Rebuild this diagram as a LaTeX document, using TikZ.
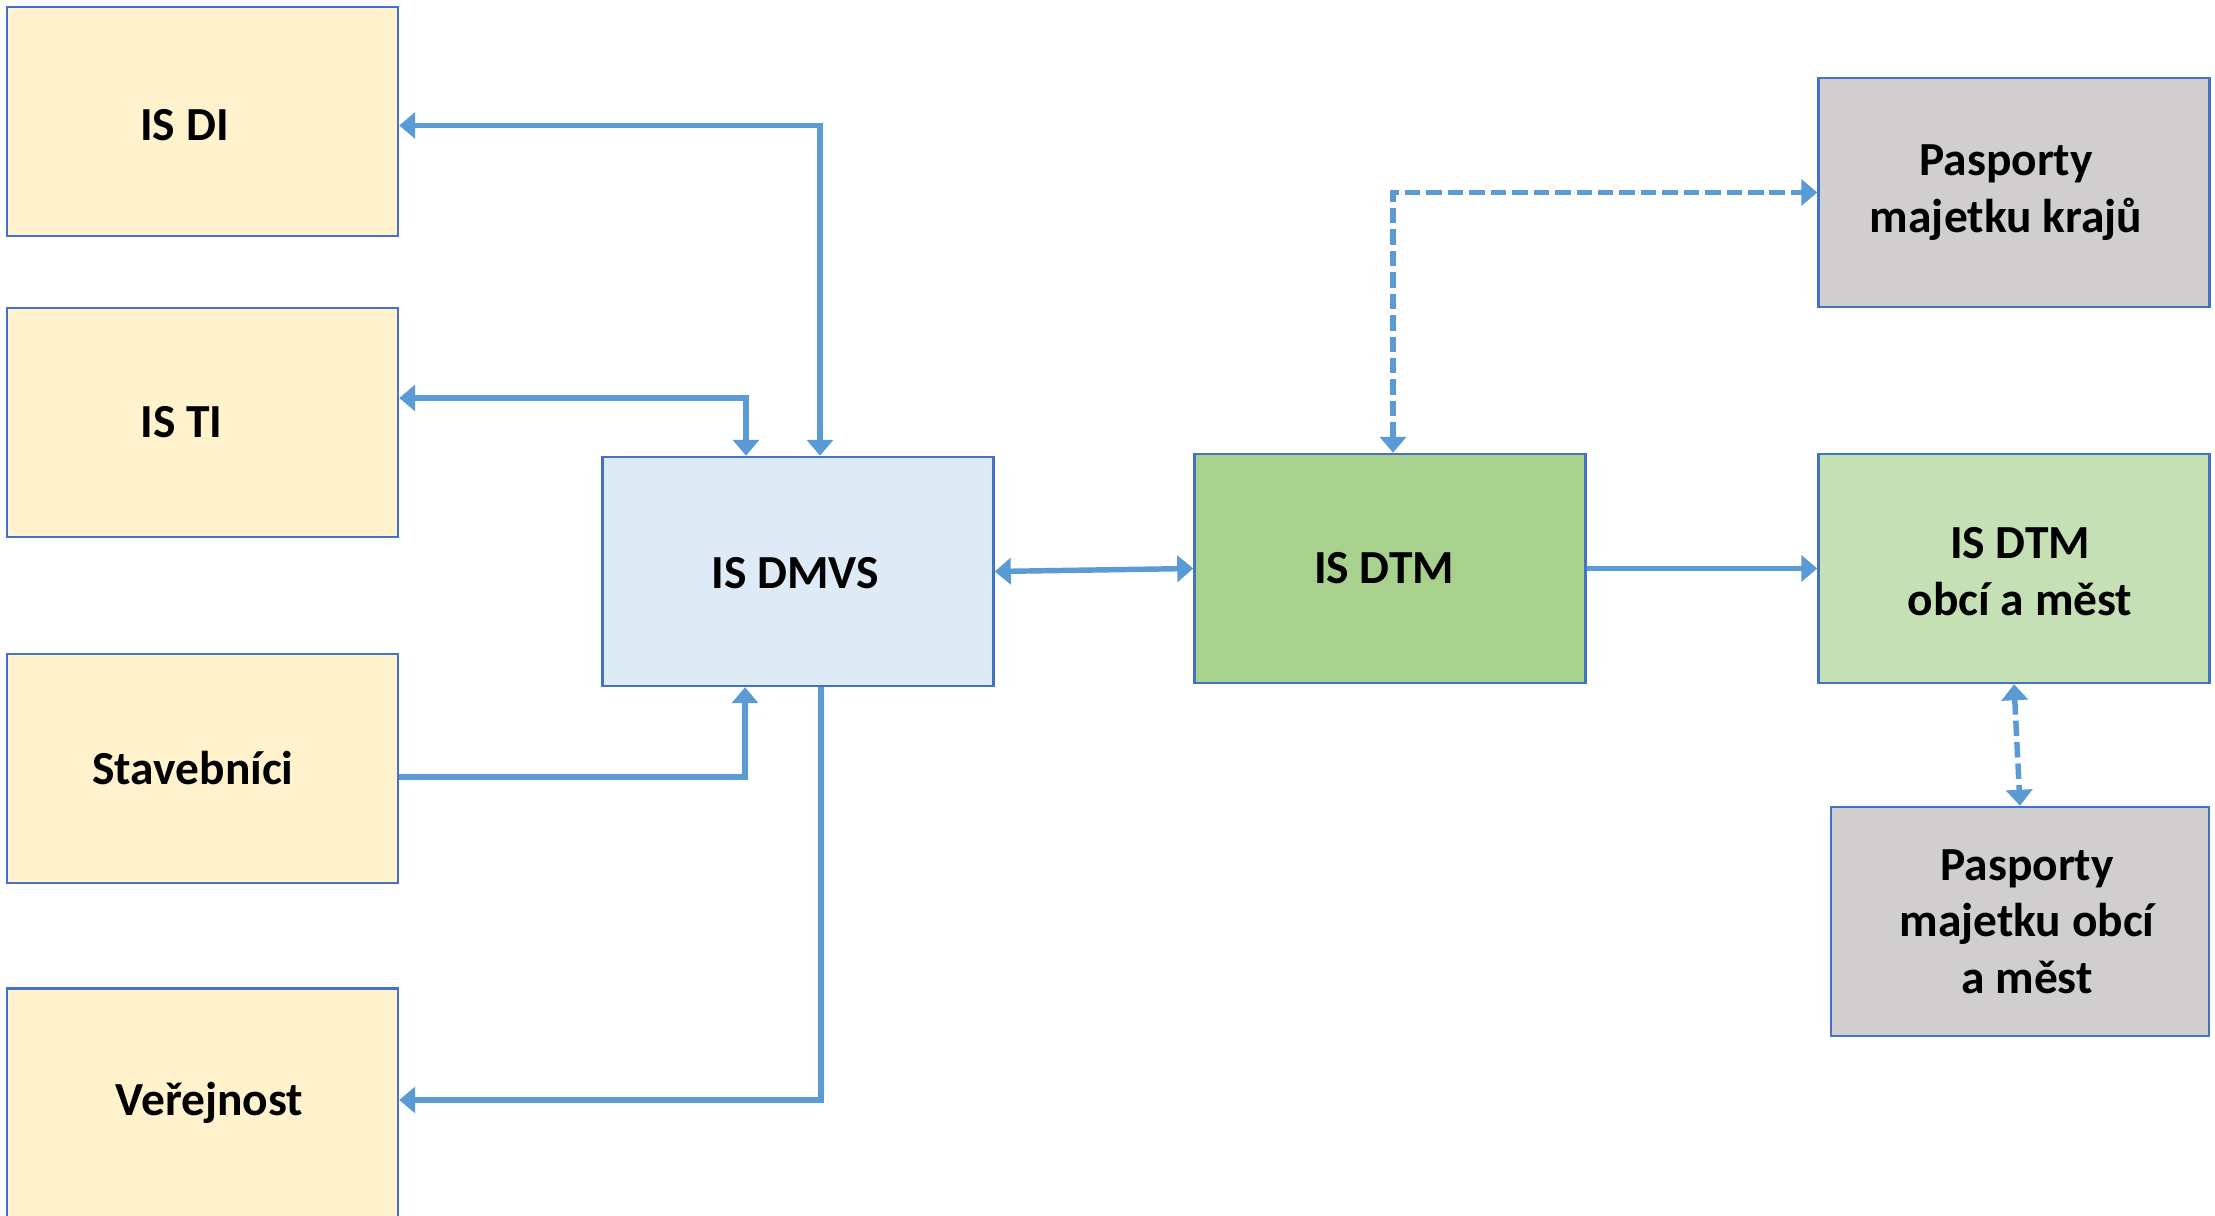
\documentclass[tikz,border=0pt]{standalone}
\usepackage{fontspec}
\setmainfont{Carlito}
\usetikzlibrary{arrows.meta}

\definecolor{boxline}{HTML}{4472C4}
\definecolor{linkblue}{HTML}{5B9BD5}
\definecolor{sourcefill}{HTML}{FFF2CC}
\definecolor{dmvsfill}{HTML}{DEEBF7}
\definecolor{dtmfill}{HTML}{A9D18E}
\definecolor{dtmobcefill}{HTML}{C5E0B4}
\definecolor{pasportfill}{HTML}{D0CECE}

\begin{document}
\begin{tikzpicture}[
        >={Triangle[length=0.16cm, width=0.26cm]},
        box/.style={draw=boxline, line width=0.7pt, minimum width=3.91cm, minimum height=2.29cm, inner sep=0pt},
        every label/.style={align=center, inner sep=0pt, font=\fontsize{13.5}{16.1}\selectfont\bfseries},
        link/.style={draw=linkblue, line width=1.55pt},
        dashlink/.style={link, dash pattern=on 4.4pt off 1.7pt}
    ]
    \useasboundingbox (0, 0) rectangle (22.15, 12.15);

    % left column
    \node[box, fill=sourcefill, label={[xshift=-0.18cm, yshift=-0.04cm]center:IS DI}] (isdi) at (2.025, 10.935) {};
    \node[box, fill=sourcefill, label={[xshift=-0.21cm]center:IS TI}] (isti) at (2.025, 7.925) {};
    \node[box, fill=sourcefill, label={[xshift=-0.095cm]center:Stavebníci}] (stav) at (2.025, 4.465) {};
    \node[box, fill=sourcefill, label={[xshift=0.07cm]center:Veřejnost}] (verej) at (2.025, 1.12) {};

    % middle
    \node[box, fill=dmvsfill, label={[xshift=-0.03cm, yshift=-0.02cm]center:IS DMVS}] (dmvs) at (7.98, 6.435) {};
    \node[box, fill=dtmfill, label={[xshift=-0.06cm]center:IS DTM}] (dtm) at (13.90, 6.465) {};

    % right column
    \node[box, fill=pasportfill, label={[xshift=-0.08cm]center:Pasporty\\majetku krajů}] (kraje) at (20.14, 10.225) {};
    \node[box, fill=dtmobcefill, label={[xshift=0.06cm, yshift=-0.03cm]center:IS DTM\\obcí a měst}] (dtmobce) at (20.14, 6.465) {};
    \node[box, fill=pasportfill, minimum width=3.78cm, label={[xshift=0.07cm]center:Pasporty\\majetku obcí\\a měst}] (obce) at (20.20, 2.935) {};

    \draw[link, <->] ([yshift=-0.04cm]isdi.east) -| ([xshift=0.22cm]dmvs.north);
    \draw[link, <->] ([yshift=0.245cm]isti.east) -| ([xshift=-0.52cm]dmvs.north);
    \draw[link, ->] ([yshift=-0.085cm]stav.east) -| ([xshift=-0.53cm]dmvs.south);
    \draw[link, ->] ([xshift=0.23cm]dmvs.south) |- ([yshift=0.03cm]verej.east);

    \draw[link, <->] (dmvs.east) -- (dtm.west);
    \draw[link, ->] (dtm.east) -- (dtmobce.west);

    \draw[dashlink, <->] ([xshift=0.03cm]dtm.north) |- (kraje.west);
    \draw[dashlink, <->] (dtmobce.south) -- (obce.north);
\end{tikzpicture}
\end{document}
